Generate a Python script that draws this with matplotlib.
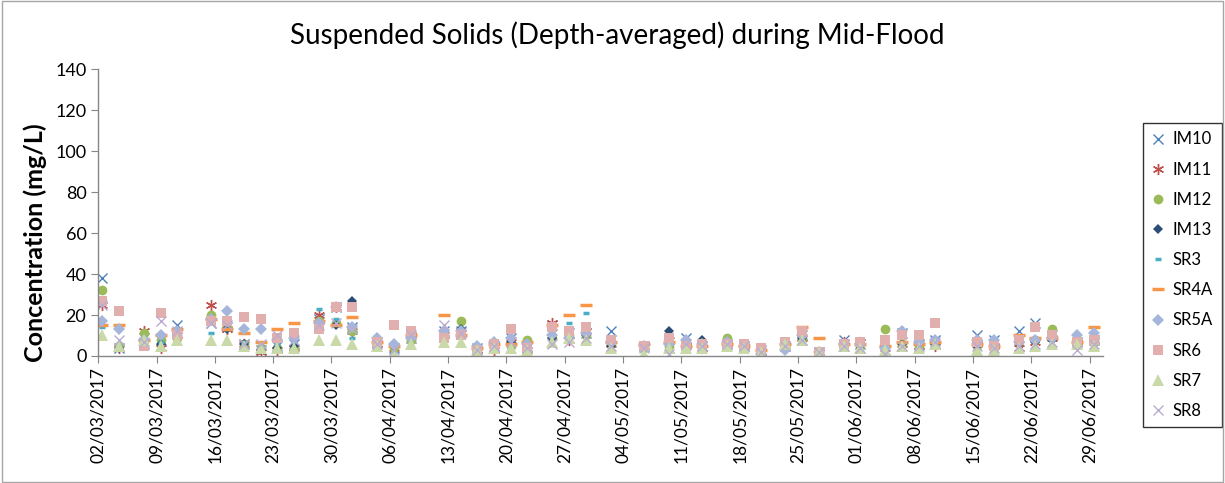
import matplotlib
matplotlib.use("Agg")
import matplotlib.pyplot as plt
import matplotlib.dates as mdates
from matplotlib.patches import Rectangle
import numpy as np
import pandas as pd

plt.rcParams['font.family'] = ['Lato', 'DejaVu Sans']

# sampling dates (dd/mm/yyyy as in the source sheet)
dates = ["02/03/2017", "04/03/2017", "07/03/2017", "09/03/2017", "11/03/2017",
         "15/03/2017", "17/03/2017", "19/03/2017", "21/03/2017", "23/03/2017",
         "25/03/2017", "28/03/2017", "30/03/2017", "01/04/2017", "04/04/2017",
         "06/04/2017", "08/04/2017", "12/04/2017", "14/04/2017", "16/04/2017",
         "18/04/2017", "20/04/2017", "22/04/2017", "25/04/2017", "27/04/2017",
         "29/04/2017", "02/05/2017", "06/05/2017", "09/05/2017", "11/05/2017",
         "13/05/2017", "16/05/2017", "18/05/2017", "20/05/2017", "23/05/2017",
         "25/05/2017", "27/05/2017", "30/05/2017", "01/06/2017", "04/06/2017",
         "06/06/2017", "08/06/2017", "10/06/2017", "15/06/2017", "17/06/2017",
         "20/06/2017", "22/06/2017", "24/06/2017", "27/06/2017", "29/06/2017"]

# depth-averaged suspended solids (mg/L)
IM10 = [38, 4, 6, 8, 15, 16, 14, 6, 3, 5, 6, 18, 24, 14, 7, 4, 9, 12, 12, 4,
        5, 9, 5, 15, 11, 11, 12, 5, 4, 9, 5, 6, 5, 3, 5, 10, 2, 8, 6, 3,
        11, 6, 8, 10, 8, 12, 16, 10, 7, 8]
IM11 = [25, 4, 12, 4, 10, 25, 13, 6, 2, 3, 4, 20, 24, 12, 6, 4, 10, 10, 11, 3,
        3, 7, 3, 16, 8, 12, 6, 5, 8, 5, 4, 6, 5, 2, 5, 9, 2, 7, 7, 4,
        6, 5, 5, 6, 5, 4, 7, 9, 7, 8]
IM12 = [32, 5, 11, 8, 9, 20, 14, 6, 4, 4, 4, 17, 16, 12, 6, 4, 8, 9, 17, 3,
        5, 5, 8, 9, 10, 10, 6, 4, 5, 5, 5, 9, 5, 3, 5, 9, 2, 6, 5, 13,
        6, 5, 7, 5, 4, 7, 8, 13, 6, 7]
IM13 = [27, 4, 6, 6, 9, 17, 13, 6, 3, 4, 5, 16, 15, 27, 7, 5, 9, 10, 13, 0.5,
        5, 7, 5, 9, 9, 10, 5, 4, 12, 7, 8, 6, 5, 3, 5, 9, 2, 6, 5, 4,
        6, 6, 6, 5, 4, 6, 7, 8, 6, 7]
SR3 = [14, 5, 7, 7, 12, 11, 13, 7, 5, 6, 7, 23, 18, 9, 7, 5, 9, 13, 12, 4,
       5, 8, 6, 12, 16, 21, 6, 5, 6, 6, 5, 6, 5, 3, 5, 7, 2, 6, 5, 4,
       7, 7, 7, 6, 5, 8, 9, 8, 6, 8]
SR4A = [15, 15, 8, 10, 13, 18, 13, 11, 7, 13, 16, 17, 15, 19, 7, 5, 10, 20, 10, 4,
        6, 6, 7, 15, 20, 25, 7, 6, 7, 5, 5, 6, 5, 3, 6, 14, 9, 6, 6, 5,
        7, 6, 7, 6, 5, 10, 9, 9, 7, 14]
SR5A = [17, 13, 8, 10, 12, 18, 22, 13, 13, 8, 9, 16, 24, 14, 9, 6, 9, 12, 12, 5,
        7, 9, 6, 10, 9, 11, 7, 5, 6, 8, 6, 7, 5, 1, 3, 10, 2, 6, 6, 4,
        12, 7, 8, 8, 8, 7, 8, 9, 10, 11]
SR6 = [27, 22, 5, 21, 10, 17, 17, 19, 18, 9, 11, 13, 24, 24, 7, 15, 12, 9, 10, 3,
       6, 13, 4, 14, 12, 14, 8, 5, 9, 5, 6, 6, 6, 4, 7, 12, 2, 6, 7, 8,
       10, 10, 16, 7, 5, 8, 14, 10, 7, 8]
SR7 = [10, 5, 8, 5, 8, 8, 8, 5, 4, 4, 4, 8, 8, 6, 5, 1, 6, 7, 7, 3,
       4, 4, 3, 7, 9, 8, 4, 1, 4, 4, 4, 5, 4, 2, 6, 8, 2, 5, 4, 3,
       5, 4, 6, 3, 3, 4, 5, 6, 6, 5]
SR8 = [25, 8, 7, 17, 12, 16, 15, 6, 6, 10, 8, 15, 16, 13, 6, 3, 10, 15, 11, 3,
       5, 7, 4, 6, 7, 9, 5, 4, 1, 6, 5, 6, 5, 2, 5, 8, 2, 5, 4, 1,
       5, 5, 7, 5, 4, 5, 6, 7, 3, 6]

series = [("IM10", IM10), ("IM11", IM11), ("IM12", IM12), ("IM13", IM13),
          ("SR3", SR3), ("SR4A", SR4A), ("SR5A", SR5A), ("SR6", SR6),
          ("SR7", SR7), ("SR8", SR8)]

# marker styles, excel-ish palette
styles = {
    "IM10": dict(marker="x", color="#4F81BD", ms=7, mew=1.0),
    "IM11": dict(marker=(6, 2, 0), color="#C0504D", ms=8, mew=1.0),
    "IM12": dict(marker="o", color="#9BBB59", ms=7, mew=0),
    "IM13": dict(marker="D", color="#2C4D75", ms=5.5, mew=0),
    "SR3": dict(marker="_", color="#4BACC6", ms=5, mew=2.5),
    "SR4A": dict(marker="_", color="#F79646", ms=8, mew=2.5),
    "SR5A": dict(marker="D", color="#A5B6DA", ms=6.5, mew=0),
    "SR6": dict(marker="s", color="#E0AFAE", ms=7, mew=0),
    "SR7": dict(marker="^", color="#C9DAA8", ms=8, mew=0),
    "SR8": dict(marker="x", color="#B9ADD0", ms=7, mew=1.0),
}

x = pd.to_datetime(dates, format="%d/%m/%Y") + pd.Timedelta(hours=12)

fig = plt.figure(figsize=(12.25, 4.83), dpi=100)
ax = fig.add_axes([0.0802, 0.263, 0.820, 0.5935])

for name, vals in series:
    st = styles[name]
    ax.plot(x, vals, linestyle="none", marker=st["marker"], color=st["color"],
            markersize=st["ms"], markeredgewidth=st["mew"], label=name)

ticks = pd.date_range("2017-03-02", "2017-06-29", freq="7D")
ax.set_xticks(ticks)
ax.xaxis.set_major_formatter(mdates.DateFormatter("%d/%m/%Y"))
ax.set_xlim(pd.Timestamp("2017-03-02"), pd.Timestamp("2017-06-30 14:00"))
ax.set_ylim(0, 140)
ax.set_yticks(np.arange(0, 141, 20))

for lab in ax.get_xticklabels():
    lab.set_rotation(90)
ax.tick_params(axis="both", labelsize=12.5, color="#868686", length=5, direction="out")
ax.tick_params(axis="y", labelsize=13)
ax.tick_params(axis="x", pad=3)

for s in ["top", "right"]:
    ax.spines[s].set_visible(False)
for s in ["left", "bottom"]:
    ax.spines[s].set_color("#868686")
    ax.spines[s].set_linewidth(1.0)

fig.text(0.029, 0.497, "Concentration (mg/L)", rotation=90, ha="center", va="center",
         fontsize=18, fontweight="bold")
fig.text(0.504, 0.928, "Suspended Solids (Depth-averaged) during Mid-Flood",
         ha="center", va="center", fontsize=20)

leg = ax.legend(loc="upper left", bbox_to_anchor=(0.933, 0.745), bbox_transform=fig.transFigure,
                fontsize=12, frameon=True, fancybox=False, labelspacing=0.85,
                handlelength=0.8, handletextpad=0.5, borderpad=0.5, borderaxespad=0)
leg.get_frame().set_edgecolor("black")
leg.get_frame().set_linewidth(1.0)

# chart border
fig.patches.append(Rectangle((0.002, 0.003), 0.996, 0.994, transform=fig.transFigure,
                             fill=False, edgecolor="#A6A6A6", linewidth=1.0))

fig.savefig("out.png", dpi=100)
